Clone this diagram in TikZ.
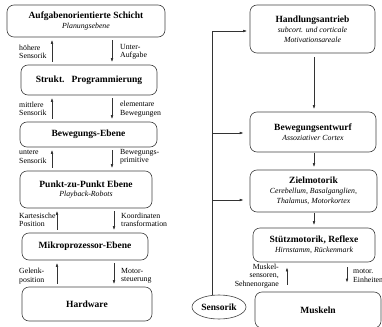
\documentclass[tikz,border=0pt]{standalone}
\usepackage{fontspec}
\setmainfont{Liberation Serif}
\usetikzlibrary{arrows.meta,positioning,shapes.geometric}

\newcommand{\subline}[1]{{\normalfont\itshape\fontsize{7.8}{8.5}\selectfont #1}}

\begin{document}
\begin{tikzpicture}
  [x=1pt,y=-1pt,
  layer/.style={rectangle,rounded corners=7pt,draw=black!75,line width=0.6pt,align=center,inner sep=1pt,font=\fontsize{9.5}{9.8}\selectfont\bfseries},
  sense/.style={ellipse,draw=black!75,line width=0.6pt,inner sep=0pt,minimum width=54pt,minimum height=24pt,font=\fontsize{9.5}{9.8}\selectfont\bfseries},
  note/.style={inner sep=0pt,anchor=west,align=left,font=\fontsize{7.8}{8.4}\selectfont},
  post/.style={->,>={Latex[length=4pt,width=2.6pt]},line width=0.6pt,draw=black!80,shorten <=3pt,shorten >=2.5pt}
  ]
  \useasboundingbox (0,0) rectangle (382,326);
  % linke Hierarchie
  \node[layer,minimum width=158pt,minimum height=32pt] (aufgabe) at (86,21)
    {Aufgabenorientierte Schicht\\\subline{Planungsebene}};
  \node[layer,minimum width=136pt,minimum height=30pt] (strukt) at (89,80)
    {Strukt.\ \ \ Programmierung};
  \node[layer,minimum width=137pt,minimum height=25pt] (bewegung) at (88.5,134.5)
    {Bewegungs-Ebene};
  \node[layer,minimum width=132pt,minimum height=37pt] (punkt) at (86,189.5)
    {Punkt-zu-Punkt Ebene\\\subline{Playback-Robots}};
  \node[layer,minimum width=126pt,minimum height=27pt] (mikro) at (85,246.5)
    {Mikroprozessor-Ebene};
  \node[layer,minimum width=130pt,minimum height=34pt] (hardware) at (87,304)
    {Hardware};
  \coordinate (upA) at (52,0);
  \coordinate (downA) at (112,0);
  \coordinate (upB) at (57,0);
  \coordinate (downB) at (114,0);
  \draw[post] (strukt.north -| upA) -- (aufgabe.south -| upA);
  \draw[post] (aufgabe.south -| downA) -- (strukt.north -| downA);
  \draw[post] (bewegung.north -| upA) -- (strukt.south -| upA);
  \draw[post] (strukt.south -| downA) -- (bewegung.north -| downA);
  \draw[post] (punkt.north -| upA) -- (bewegung.south -| upA);
  \draw[post] (bewegung.south -| downA) -- (punkt.north -| downA);
  \draw[post] (mikro.north -| upB) -- (punkt.south -| upB);
  \draw[post] (punkt.south -| downB) -- (mikro.north -| downB);
  \draw[post] (hardware.north -| upB) -- (mikro.south -| upB);
  \draw[post] (mikro.south -| downB) -- (hardware.north -| downB);
  \node[note] (hoehere) at (19,52) {höhere\\Sensorik};
  \node[note] (unteraufgabe) at (120,52) {Unter-\\Aufgabe};
  \node[note] (mittlere) at (19,109) {mittlere\\Sensorik};
  \node[note] (elementare) at (120,109) {elementare\\Bewegungen};
  \node[note] (untere) at (19,157) {untere\\Sensorik};
  \node[note] (primitive) at (120,156.5) {Bewegungs-\\primitive};
  \node[note] (kartesisch) at (19,220) {Kartesische\\Position};
  \node[note] (koordinaten) at (121,220) {Koordinaten\\transformation};
  \node[note] (gelenk) at (19,276) {Gelenk-\\position};
  \node[note] (motorst) at (121,276) {Motor-\\steuerung};
  % rechte Hierarchie
  \node[layer,minimum width=125pt,minimum height=48pt] (antrieb) at (312.5,29)
    {Handlungsantrieb\\\subline{subcort. und corticale}\\\subline{Motivationsareale}};
  \node[layer,minimum width=126pt,minimum height=40pt] (entwurf) at (313,132)
    {Bewegungsentwurf\\\subline{Assoziativer Cortex}};
  \node[layer,minimum width=127pt,minimum height=42pt] (ziel) at (313.5,191)
    {Zielmotorik\\\subline{Cerebellum, Basalganglien,}\\\subline{Thalamus, Motorkortex}};
  \node[layer,minimum width=122pt,minimum height=34pt] (stuetz) at (314,245)
    {Stützmotorik, Reflexe\\\subline{Hirnstamm, Rückenmark}};
  \node[layer,minimum width=126pt,minimum height=36pt] (muskeln) at (318,310)
    {Muskeln};
  \node[sense] (sensorik) at (219,307) {Sensorik};
  \coordinate (mitte) at (314,0);
  \coordinate (upC) at (287,0);
  \coordinate (downC) at (347,0);
  \draw[post,shorten <=4pt] (antrieb.south -| mitte) -- (entwurf.north -| mitte);
  \draw[post,shorten <=1pt] (entwurf.south -| mitte) -- (ziel.north -| mitte);
  \draw[post,shorten <=1pt] (ziel.south -| mitte) -- (stuetz.north -| mitte);
  \draw[post,shorten <=7pt,shorten >=5pt] (muskeln.north -| upC) -- (stuetz.south -| upC);
  \draw[post,shorten <=5pt,shorten >=9pt] (stuetz.south -| downC) -- (muskeln.north -| downC);
  \node[note,anchor=east,align=right] (muskelsens) at (279,276) {Muskel-\\sensoren,\\Sehnenorgane};
  \node[note] (einheiten) at (353,276) {motor.\\Einheiten};
  % Rueckmeldung der Sensorik
  \coordinate (fbtop) at (212,31);
  \coordinate (fbmid) at (212,133);
  \coordinate (fblow) at (212,200);
  \draw[post,shorten <=0pt] (sensorik.north -| fbtop) -- (fbtop) -- (antrieb.west |- fbtop);
  \draw[post,shorten <=0pt,shorten >=6pt] (fbmid) -- (entwurf.west |- fbmid);
  \draw[post,shorten <=0pt,shorten >=6pt] (fblow) -- (ziel.west |- fblow);
\end{tikzpicture}
\end{document}
